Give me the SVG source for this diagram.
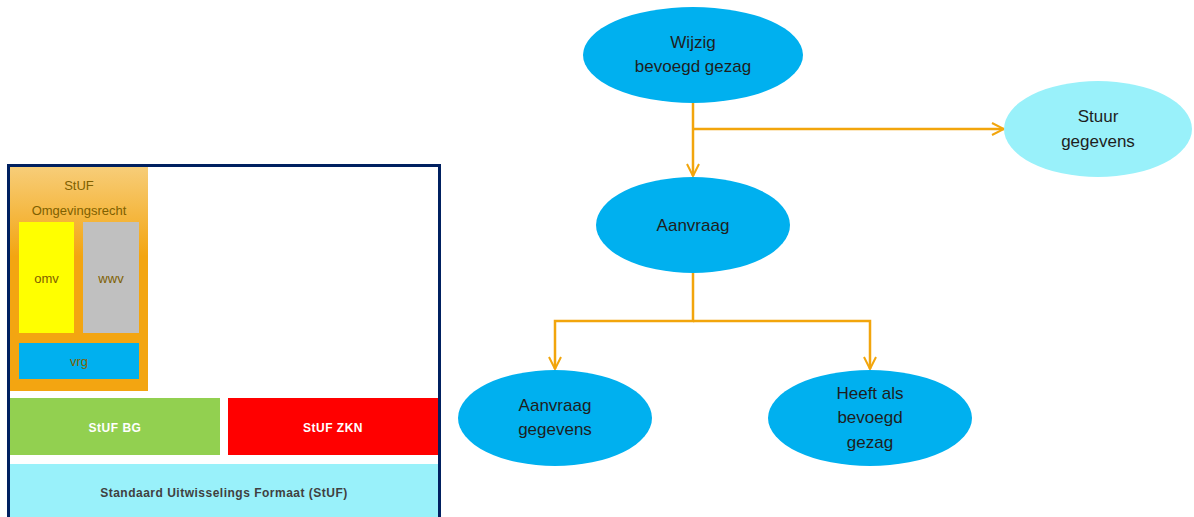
<svg xmlns="http://www.w3.org/2000/svg" width="1194" height="517" viewBox="0 0 1194 517">
<defs>
<linearGradient id="og" x1="0" y1="0" x2="0" y2="1">
<stop offset="0" stop-color="#F7CD78"/>
<stop offset="0.4" stop-color="#F3A511"/>
<stop offset="1" stop-color="#F3A511"/>
</linearGradient>
<marker id="arr" viewBox="0 0 14 14" refX="13" refY="7" markerWidth="14" markerHeight="14" markerUnits="userSpaceOnUse" orient="auto">
<path d="M1,1 L13,7 L1,13" fill="none" stroke="#F2A50C" stroke-width="2"/>
</marker>
<style>
.t{font-family:"Liberation Sans",Arial,sans-serif;}
.lbl{font-size:13px;fill:#7F6000;text-anchor:middle;}
.node{fill:#00B0EF;}
.nt{font-family:"Liberation Sans",Arial,sans-serif;font-size:17px;fill:#1E1E1E;text-anchor:middle;}
.conn{fill:none;stroke:#F2A50C;stroke-width:2.5;}
</style>
</defs>
<rect width="1194" height="517" fill="#FFFFFF"/>
<g id="stuf-stack">
<rect x="8.5" y="165.5" width="431" height="360" fill="#FFFFFF" stroke="#002060" stroke-width="3"/>
<g id="stuf-or">
<rect x="10" y="167" width="138" height="224" fill="url(#og)"/>
<text class="t lbl" x="79" y="190">StUF</text>
<text class="t lbl" x="79" y="215">Omgevingsrecht</text>
</g>
<g id="omv"><rect x="19" y="222" width="55" height="111" fill="#FFFF00"/><text class="t lbl" x="46.5" y="283" font-size="12">omv</text></g>
<g id="wwv"><rect x="83" y="222" width="56" height="111" fill="#C0C0C0"/><text class="t lbl" x="111" y="283" font-size="12">wwv</text></g>
<g id="vrg"><rect x="19" y="343" width="120" height="36" fill="#00B0EF"/><text class="t lbl" x="79" y="366">vrg</text></g>
<g id="stuf-bg"><rect x="10" y="398" width="210" height="57" fill="#92D050"/><text class="t" x="115" y="432" font-size="12" font-weight="bold" fill="#FFFFFF" text-anchor="middle" letter-spacing="0.5">StUF BG</text></g>
<g id="stuf-zkn"><rect x="228" y="398" width="210" height="57" fill="#FF0000"/><text class="t" x="333" y="432" font-size="12" font-weight="bold" fill="#FFFFFF" text-anchor="middle" letter-spacing="0.5">StUF ZKN</text></g>
<g id="stuf"><rect x="10" y="464" width="428" height="53" fill="#99F1FA"/><text class="t" x="224" y="497" font-size="12" font-weight="bold" fill="#404040" text-anchor="middle" letter-spacing="0.5">Standaard Uitwisselings Formaat (StUF)</text></g>
</g>
<g id="connectors">
<path class="conn" d="M693,103 L693,176" marker-end="url(#arr)"/>
<path class="conn" d="M693,129 L1004,129" marker-end="url(#arr)"/>
<path class="conn" d="M693,273 L693,321 L555,321 L555,369" marker-end="url(#arr)"/>
<path class="conn" d="M693,321 L870,321 L870,369" marker-end="url(#arr)"/>
</g>
<g id="wijzig"><ellipse class="node" cx="693" cy="55" rx="110" ry="48"/><text class="nt" x="693" y="48">Wijzig</text><text class="nt" x="693" y="72">bevoegd gezag</text></g>
<g id="stuur"><ellipse cx="1098" cy="129" rx="94" ry="48" fill="#99F1FA"/><text class="nt" x="1098" y="122">Stuur</text><text class="nt" x="1098" y="147">gegevens</text></g>
<g id="aanvraag"><ellipse class="node" cx="693" cy="225" rx="97" ry="48"/><text class="nt" x="693" y="231">Aanvraag</text></g>
<g id="aanvraag-gegevens"><ellipse class="node" cx="555" cy="418" rx="97" ry="48"/><text class="nt" x="555" y="411">Aanvraag</text><text class="nt" x="555" y="435">gegevens</text></g>
<g id="heeft"><ellipse class="node" cx="870" cy="418" rx="102" ry="48"/><text class="nt" x="870" y="399">Heeft als</text><text class="nt" x="870" y="423">bevoegd</text><text class="nt" x="870" y="448">gezag</text></g>
</svg>
